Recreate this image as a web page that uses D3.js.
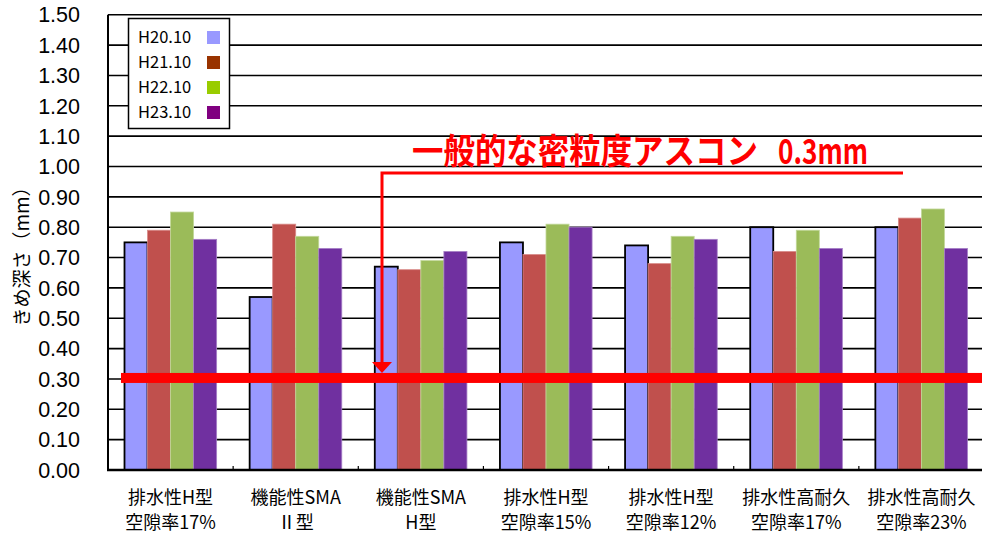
<!DOCTYPE html>
<html>
<head>
<meta charset="utf-8">
<script src="https://cdn.jsdelivr.net/npm/d3@7"></script>
<style>
  html, body { margin: 0; padding: 0; background: #fff; }
  svg { display: block; }
</style>
</head>
<body>
<script>
// Texture depth per pavement type, one array per survey date
const categories = [
  ["排水性H型", "空隙率17%"],
  ["機能性SMA", "Ⅱ型"],
  ["機能性SMA", "H型"],
  ["排水性H型", "空隙率15%"],
  ["排水性H型", "空隙率12%"],
  ["排水性高耐久", "空隙率17%"],
  ["排水性高耐久", "空隙率23%"]
];
const seriesNames = ["H20.10", "H21.10", "H22.10", "H23.10"];
const valuesH20 = [0.75, 0.57, 0.67, 0.75, 0.74, 0.80, 0.80];
const valuesH21 = [0.79, 0.81, 0.66, 0.71, 0.68, 0.72, 0.83];
const valuesH22 = [0.85, 0.77, 0.69, 0.81, 0.77, 0.79, 0.86];
const valuesH23 = [0.76, 0.73, 0.72, 0.80, 0.76, 0.73, 0.73];
const yTickValues = [0, 0.1, 0.2, 0.3, 0.4, 0.5, 0.6, 0.7, 0.8, 0.9, 1.0, 1.1, 1.2, 1.3, 1.4, 1.5];
const yTitle = "きめ深さ（mm）";
const refValue = 0.3;
const refLabelMain = "一般的な密粒度アスコン";
const refLabelValue = "0.3mm";

const seriesValues = [valuesH20, valuesH21, valuesH22, valuesH23];
const barFill = ["#9999FF", "#C0504D", "#9BBB59", "#7030A0"];
const barStroke = ["#000000", "#D88A88", "#C2D89A", "#A67FC6"];
const legendFill = ["#9999FF", "#993300", "#99CC00", "#800080"];

const W = 982, H = 533;
const plot = { left: 108, right: 984, top: 14.75, bottom: 470 };
const JP = "'Noto Sans CJK JP', 'Noto Sans', sans-serif";
const NUM = "'Liberation Sans', Arial, sans-serif";

const svg = d3.select("body").append("svg")
  .attr("width", W).attr("height", H)
  .attr("viewBox", `0 0 ${W} ${H}`);

// one band per pavement type, bars clustered in the middle of each band
const x = d3.scaleBand()
  .domain(d3.range(categories.length))
  .range([plot.left, plot.right]);
const clusterInset = 16.5;
const xSub = d3.scaleBand()
  .domain(d3.range(seriesNames.length))
  .range([clusterInset, x.bandwidth() - clusterInset]);

const y = d3.scaleLinear().domain([0, 1.5]).range([plot.bottom, plot.top]);

// horizontal gridlines
svg.append("g")
  .selectAll("line")
  .data(yTickValues.filter(d => d > 0))
  .join("line")
  .attr("x1", plot.left).attr("x2", W)
  .attr("y1", d => y(d)).attr("y2", d => y(d))
  .attr("stroke", "#000").attr("stroke-width", 1.6);

// bars
const rows = [];
seriesValues.forEach((vals, s) => vals.forEach((v, c) => rows.push({ s, c, v })));
svg.append("g")
  .selectAll("rect")
  .data(rows)
  .join("rect")
  .attr("x", d => x(d.c) + xSub(d.s))
  .attr("y", d => y(d.v))
  .attr("width", xSub.bandwidth())
  .attr("height", d => y(0) - y(d.v))
  .attr("fill", d => barFill[d.s])
  .attr("stroke", d => barStroke[d.s])
  .attr("stroke-width", d => d.s === 0 ? 1.8 : 0.8);

// value axis
svg.append("line")
  .attr("x1", plot.left).attr("x2", plot.left)
  .attr("y1", plot.top).attr("y2", plot.bottom)
  .attr("stroke", "#000").attr("stroke-width", 2);

svg.append("g")
  .selectAll("text")
  .data(yTickValues)
  .join("text")
  .attr("x", 80).attr("y", d => y(d))
  .attr("dy", "0.36em")
  .attr("text-anchor", "end")
  .attr("font-family", NUM).attr("font-size", 21.5)
  .attr("fill", "#000")
  .text(d => d3.format(".2f")(d));

// category axis
svg.append("line")
  .attr("x1", plot.left - 1).attr("x2", W)
  .attr("y1", plot.bottom).attr("y2", plot.bottom)
  .attr("stroke", "#000").attr("stroke-width", 2.6);

svg.append("g")
  .selectAll("line")
  .data(d3.range(1, categories.length))
  .join("line")
  .attr("x1", d => x(d)).attr("x2", d => x(d))
  .attr("y1", plot.bottom).attr("y2", plot.bottom - 4)
  .attr("stroke", "#000").attr("stroke-width", 1.2);

const catLabels = svg.append("g")
  .selectAll("text")
  .data(categories)
  .join("text")
  .attr("text-anchor", "middle")
  .attr("font-family", JP).attr("font-size", 18)
  .attr("fill", "#000");
catLabels.selectAll("tspan")
  .data((d, i) => d.map(line => ({ line, i })))
  .join("tspan")
  .attr("x", d => x(d.i) + x.bandwidth() / 2)
  .attr("y", (d, j) => 504 + j * 25)
  .text(d => d.line);

// axis title
svg.append("text")
  .attr("transform", "translate(29,252) rotate(-90)")
  .attr("text-anchor", "middle")
  .attr("font-family", JP).attr("font-size", 19)
  .attr("fill", "#000")
  .text(yTitle);

// legend
const legend = svg.append("g");
legend.append("rect")
  .attr("x", 128.5).attr("y", 18.5)
  .attr("width", 101).attr("height", 110)
  .attr("fill", "#fff").attr("stroke", "#000").attr("stroke-width", 1.5);
const items = legend.selectAll("g.item")
  .data(seriesNames)
  .join("g").attr("class", "item")
  .attr("transform", (d, i) => `translate(0,${37.5 + i * 25})`);
items.append("text")
  .attr("x", 138).attr("dy", "0.36em")
  .attr("font-family", JP).attr("font-size", 16.5)
  .attr("fill", "#000")
  .text(d => d);
items.append("rect")
  .attr("x", 207).attr("y", -6.5)
  .attr("width", 13).attr("height", 13)
  .attr("fill", (d, i) => legendFill[i]);

// reference level and its callout
const refY = y(refValue);
svg.append("rect")
  .attr("x", 121).attr("y", refY - 6)
  .attr("width", W - 121).attr("height", 10)
  .attr("fill", "#FF0000");

const arrowX = 382, calloutY = 173;
svg.append("path")
  .attr("d", `M903,${calloutY} H${arrowX} V${refY - 16}`)
  .attr("fill", "none").attr("stroke", "#FF0000").attr("stroke-width", 3);
svg.append("path")
  .attr("d", `M${arrowX - 10},${refY - 17} L${arrowX + 10},${refY - 17} L${arrowX},${refY - 6} Z`)
  .attr("fill", "#FF0000");

// callout text, narrowed horizontally to a condensed gothic look
function calloutText(str, left, width) {
  const t = svg.append("text")
    .attr("font-family", JP).attr("font-size", 35).attr("font-weight", "bold")
    .attr("fill", "#FF0000")
    .text(str);
  const natural = t.node().getComputedTextLength();
  t.attr("transform", `translate(${left},164) scale(${width / natural},1)`);
}
calloutText(refLabelMain, 412, 346);
calloutText(refLabelValue, 778, 90);
</script>
</body>
</html>
